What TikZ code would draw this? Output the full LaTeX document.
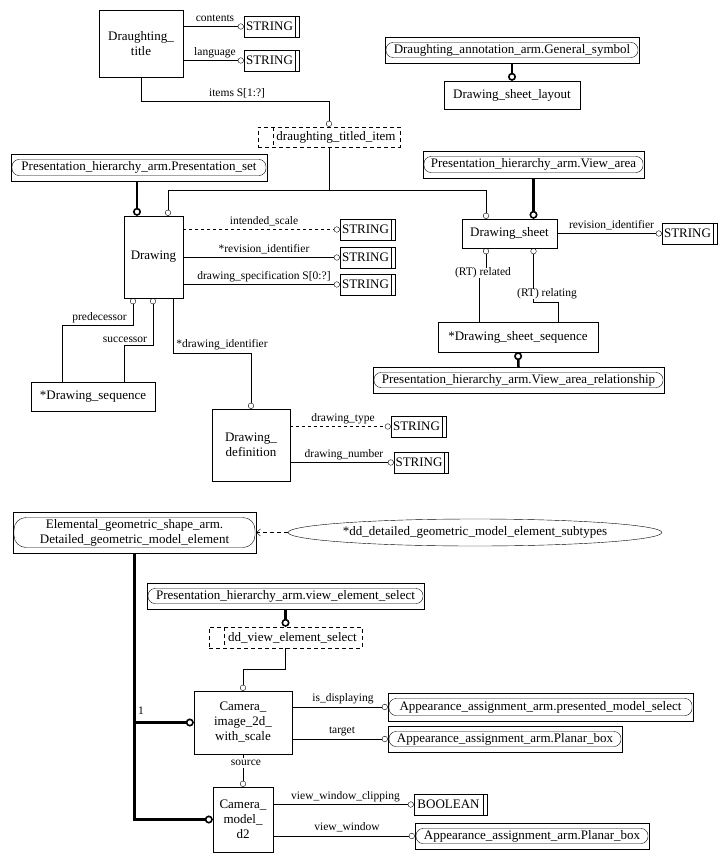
\documentclass[tikz,border=0pt]{standalone}
\usepackage{fontspec}
\setmainfont{Liberation Serif}
\usepackage{tikz}
\usetikzlibrary{arrows.meta}
\usetikzlibrary{shapes.geometric}
\newcommand{\namefont}{\fontsize{13}{15}\selectfont}
\newcommand{\lblfont}{\fontsize{11.5}{13}\selectfont}
\tikzset{
	ent/.style={draw,rectangle,inner sep=0pt,font=\namefont},
	styp/.style={ent,minimum width=55pt,minimum height=21pt,
		execute at end node={\hspace*{4pt}},
		path picture={\draw ([xshift=-4pt]path picture bounding box.north east)--([xshift=-4pt]path picture bounding box.south east);}},
	sel/.style={ent,dash pattern=on 4pt off 3pt,
		execute at begin node={\hspace*{14pt}},
		path picture={\draw[dash pattern=on 4pt off 3pt] ([xshift=15pt]path picture bounding box.north west)--([xshift=15pt]path picture bounding box.south west);}},
	xref/.style={ent,
		path picture={\draw[rounded corners=#1] ([shift={(1pt,5.5pt)}]path picture bounding box.south west) rectangle ([shift={(-1pt,-5.5pt)}]path picture bounding box.north east);}},
	xref/.default=7pt,
	attr/.style={-{Circle[open,length=6pt]}},
	sub/.style={line width=2.5pt,-{Circle[open,length=8pt,line width'=1.6pt]}},
	lbl/.style={font=\lblfont,inner sep=0pt,text height=8pt,text depth=2.5pt},
}

\begin{document}
\begin{tikzpicture}[x=1pt,y=-1pt]
\useasboundingbox (0,0) rectangle (727,861);
\begin{scope}
	% upper part: drawings and sheets
	\node[ent,align=center,minimum width=84pt,minimum height=67pt] (title) at (141,43.5) {Draughting\_\\title};
	\node[styp] (strA) at (271.5,26.5) {STRING};
	\node[styp] (strB) at (271.5,60.5) {STRING};
	\node[sel,minimum width=142pt,minimum height=20pt] (titled) at (329,137) {draughting\_titled\_item};
	\node[xref,minimum width=254pt,minimum height=26pt] (gensym) at (512,50) {Draughting\_annotation\_arm.General\_symbol};
	\node[ent,minimum width=136pt,minimum height=28pt] (layout) at (512,95) {Drawing\_sheet\_layout};
	\node[xref,minimum width=256pt,minimum height=27pt] (pset) at (139,167.5) {Presentation\_hierarchy\_arm.Presentation\_set};
	\node[xref,minimum width=221pt,minimum height=27pt] (varea) at (533.5,164.5) {Presentation\_hierarchy\_arm.View\_area};
	\node[ent,minimum width=59pt,minimum height=82pt] (drawing) at (153.5,257) {Drawing};
	\node[styp] (strC) at (367.5,229.5) {STRING};
	\node[styp] (strD) at (367.5,257.5) {STRING};
	\node[styp] (strE) at (367.5,284.5) {STRING};
	\node[ent,minimum width=95pt,minimum height=29pt] (sheet) at (509.5,233.5) {Drawing\_sheet};
	\node[styp] (strF) at (689.5,233.5) {STRING};
	\node[ent,minimum width=124pt,minimum height=29pt] (dseq) at (93,396.5) {*Drawing\_sequence};
	\node[ent,align=center,minimum width=78pt,minimum height=72pt] (ddef) at (251,445) {Drawing\_\\definition};
	\node[styp] (strG) at (418.5,426.5) {STRING};
	\node[styp,minimum width=54pt] (strH) at (421,462.5) {STRING};
	\node[ent,minimum width=160pt,minimum height=30pt] (sseq) at (518,337) {*Drawing\_sheet\_sequence};
	\node[xref,minimum width=291pt,minimum height=26pt] (varel) at (518.5,380) {Presentation\_hierarchy\_arm.View\_area\_relationship};

	\coordinate (itemsbend) at (329,101);
	\coordinate (tsplit) at (329,190);
	\coordinate (pred) at (133,325);
	\coordinate (succ) at (153,345);
	\coordinate (did) at (173,353);
	\coordinate (rel) at (479,272);
	\coordinate (rlt) at (558,302);

	\draw[attr] (strA.west -| title.east) -- (strA.west);
	\draw[attr] (strB.west -| title.east) -- (strB.west);
	\draw[attr] (title.south) |- (itemsbend) -- (titled.north);
	\draw (titled.south) -- (tsplit);
	\draw[attr] (tsplit) -| ([xshift=14.5pt]drawing.north);
	\draw[attr] (tsplit) -| ([xshift=-23.5pt]sheet.north);
	\draw[sub] ([xshift=-2pt]pset.south) -- ([xshift=-16.5pt]drawing.north);
	\draw[sub] (gensym.south) -- (layout.north);
	\draw[sub] (varea.south) -- ([xshift=24pt]sheet.north);
	\draw[attr,dashed] (strC.west -| drawing.east) -- (strC.west);
	\draw[attr] (strD.west -| drawing.east) -- (strD.west);
	\draw[attr] (strE.west -| drawing.east) -- (strE.west);
	\draw[attr] ([xshift=-31pt]dseq.north) |- (pred) -- (pred |- drawing.south);
	\draw[attr] ([xshift=31pt]dseq.north) |- (succ) -- (succ |- drawing.south);
	\draw[attr] (did |- drawing.south) -- (did) -| (ddef.north);
	\draw[attr,dashed] (strG.west -| ddef.east) -- (strG.west);
	\draw[attr] (strH.west -| ddef.east) -- (strH.west);
	\draw[attr] (strF.west -| sheet.east) -- (strF.west);
	\draw[attr] (rel |- sseq.north) -- (rel) -| ([xshift=-23.5pt]sheet.south);
	\draw[attr] (rlt |- sseq.north) -- (rlt) -| ([xshift=24pt]sheet.south);
	\draw[sub] (varel.north) -- (sseq.south);

	\node[lbl] (lcont) at (215,19) {contents};
	\node[lbl] (llang) at (215,53) {language};
	\node[lbl] (litems) at (237,94) {items S[1:?]};
	\node[lbl] (lscale) at (264,222) {intended\_scale};
	\node[lbl] (lrevA) at (264,250) {*revision\_identifier};
	\node[lbl] (lspec) at (264,277) {drawing\_specification S[0:?]};
	\node[lbl] (lpred) at (99.5,318) {predecessor};
	\node[lbl] (lsucc) at (125,340) {successor};
	\node[lbl] (lid) at (222,345) {*drawing\_identifier};
	\node[lbl] (ltype) at (343,419) {drawing\_type};
	\node[lbl] (lnum) at (344,455) {drawing\_number};
	\node[lbl] (lrevB) at (611.5,226) {revision\_identifier};
	\node[lbl,fill=white] (lrel) at (483,273) {(RT) related};
	\node[lbl,fill=white] (lrlt) at (547,294) {(RT) relating};
\end{scope}
\begin{scope}
	% lower part: camera images
	\node[xref=12pt,align=center,minimum width=243pt,minimum height=41pt] (detail) at (134.5,532.5) {Elemental\_geometric\_shape\_arm.\\Detailed\_geometric\_model\_element};
	\node[ent,ellipse,minimum width=372pt,minimum height=27pt] (subtypes) at (475,532.5) {*dd\_detailed\_geometric\_model\_element\_subtypes};
	\node[xref,minimum width=277pt,minimum height=26pt] (vesel) at (285.5,596) {Presentation\_hierarchy\_arm.view\_element\_select};
	\node[sel,minimum width=153pt,minimum height=21pt] (ddves) at (285.5,637.5) {dd\_view\_element\_select};
	\node[ent,align=center,minimum width=98pt,minimum height=63pt] (cam) at (243,722.5) {Camera\_\\image\_2d\_\\with\_scale};
	\node[xref,minimum width=305pt,minimum height=28pt] (pms) at (540.5,707) {Appearance\_assignment\_arm.presented\_model\_select};
	\node[xref,minimum width=234pt,minimum height=26pt] (pbA) at (505,739) {Appearance\_assignment\_arm.Planar\_box};
	\node[ent,align=center,minimum width=60pt,minimum height=65pt] (cmd) at (243,819.5) {Camera\_\\model\_\\d2};
	\node[styp,minimum width=73pt] (bool) at (450.5,804.5) {BOOLEAN};
	\node[xref,minimum width=234pt,minimum height=26pt] (pbB) at (532,836) {Appearance\_assignment\_arm.Planar\_box};

	\coordinate (vsel) at (285.5,669);

	\draw[dash pattern=on 4pt off 3pt,-{Straight Barb[length=4pt,width=7pt]}] (subtypes.west) -- (detail.east);
	\draw[sub] (detail.south) |- (cmd.west);
	\draw[sub] (detail.south |- cam.west) -- (cam.west);
	\draw[sub] (vesel.south) -- (ddves.north);
	\draw[attr] (ddves.south) -- (vsel) -| (cam.north);
	\draw[attr] (pms.west -| cam.east) -- (pms.west);
	\draw[attr] (pbA.west -| cam.east) -- (pbA.west);
	\draw[attr] (cam.south) -- (cmd.north);
	\draw[attr] (bool.west -| cmd.east) -- (bool.west);
	\draw[attr] (pbB.west -| cmd.east) -- (pbB.west);

	\node[lbl] (lone) at (141,712) {1};
	\node[lbl] (ldisp) at (343,699) {is\_displaying};
	\node[lbl] (ltarget) at (342,731) {target};
	\node[lbl,fill=white] (lsource) at (246,763) {source};
	\node[lbl] (lclip) at (345.5,797) {view\_window\_clipping};
	\node[lbl] (lwin) at (347,828) {view\_window};
\end{scope}
\end{tikzpicture}
\end{document}
